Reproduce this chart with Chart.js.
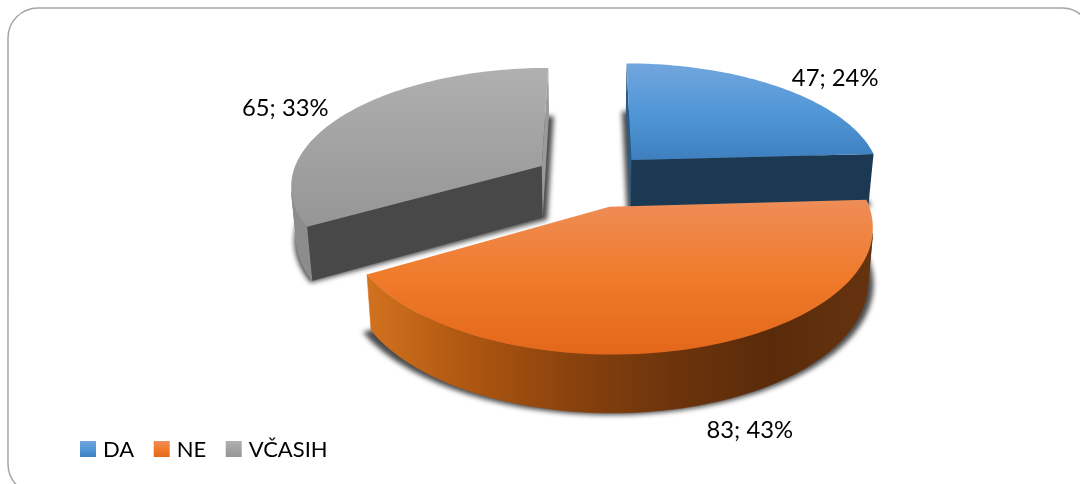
<!DOCTYPE html>
<html><head><meta charset="utf-8">
<style>html,body{margin:0;padding:0;background:#fff}canvas{display:block}</style>
<script src="https://cdn.jsdelivr.net/npm/chart.js@4"></script>
</head><body><canvas id="c" width="1080" height="484"></canvas>
<script>
const categories = ["DA", "NE", "VČASIH"];
const values = [47, 83, 65];
const topColors = [
  ["#72a6dd", "#5197d7", "#3e80bf"],
  ["#ee8d58", "#f07b2a", "#e3671a"],
  ["#b0b0b0", "#a2a2a2", "#969696"]
];
const cutColors = [["#2a5a85", "#1b3953"], ["#7a3a0c", "#7a3a0c"], ["#484848", "#9a9a9a"]];
const rimColors = [
  ["#1b3953", "#1b3953"],
  ["#d2721f", "#ae5710", "#8a430d", "#6d340b", "#5a2b0a", "#66330f"],
  ["#8c8c8c", "#8c8c8c"]
];
const labelShift = [[55.5, -9], [50, 83], [-61, -5]];

const view = {cx: 592, cy: 179.5, rx: 251, ry: 116.6, persp: 0.15, depth: 52, shrink: 0.018, explode: 0.235};

function project(u, v, z) {
  const s = 1 / (1 - view.persp * v);
  return [
    view.cx + view.rx * u * s * (1 - view.shrink * z),
    view.cy + view.ry * v * s + z * view.depth * (1 + 0.1 * v)
  ];
}
function vGrad(ctx, stops, y0, y1) {
  const g = ctx.createLinearGradient(0, y0, 0, y1);
  stops.forEach((c, i) => g.addColorStop(i / (stops.length - 1), c));
  return g;
}
function hGrad(ctx, stops, x0, x1) {
  const g = ctx.createLinearGradient(x0, 0, x1, 0);
  stops.forEach((c, i) => g.addColorStop(i / (stops.length - 1), c));
  return g;
}
function wedge(arc) {
  const mid = (arc.startAngle + arc.endAngle) / 2;
  const ax = view.explode * Math.cos(mid), ay = view.explode * Math.sin(mid);
  const pts = [];
  const n = 90;
  for (let i = 0; i <= n; i++) {
    const t = arc.startAngle + (arc.endAngle - arc.startAngle) * i / n;
    pts.push([ax + Math.cos(t), ay + Math.sin(t)]);
  }
  return {apex: [ax, ay], rim: pts, mid};
}
function trace(ctx, list) {
  list.forEach((p, i) => i ? ctx.lineTo(p[0], p[1]) : ctx.moveTo(p[0], p[1]));
  ctx.closePath();
}
function quad(a, b) {
  return [project(a[0], a[1], 0), project(b[0], b[1], 0), project(b[0], b[1], 1), project(a[0], a[1], 1)];
}
function area(q) {
  let s = 0;
  for (let i = 0; i < q.length; i++) {
    const p = q[i], r = q[(i + 1) % q.length];
    s += p[0] * r[1] - r[0] * p[1];
  }
  return s;
}

const pie3d = {
  id: "pie3d",
  beforeDatasetsDraw(chart) {
    const ctx = chart.ctx;
    const arcs = chart.getDatasetMeta(0).data;
    // back to front: VČASIH, DA, NE
    [2, 0, 1].forEach(i => {
      const w = wedge(arcs[i]);
      const outline = [w.apex, ...w.rim];
      const top = outline.map(p => project(p[0], p[1], 0));
      const bottom = outline.map(p => project(p[0], p[1], 1));
      const ys = top.map(p => p[1]), xs = top.map(p => p[0]);
      const y0 = Math.min(...ys), y1 = Math.max(...ys), x0 = Math.min(...xs), x1 = Math.max(...xs);

      // soft shadow below the slice
      ctx.save();
      ctx.filter = "blur(2.5px)";
      ctx.fillStyle = "rgba(30,30,30,0.8)";
      const bx = bottom.reduce((s, p) => s + p[0], 0) / bottom.length;
      ctx.beginPath();
      trace(ctx, bottom.map(p => [bx + (p[0] - bx) * 1.028, p[1] + 2]));
      ctx.fill();
      ctx.restore();

      // rim wall
      const rimStops = rimColors[i];
      ctx.fillStyle = hGrad(ctx, rimStops, x0, x1);
      ctx.strokeStyle = ctx.fillStyle;
      ctx.lineWidth = 0.6;
      ctx.beginPath();
      for (let k = 0; k < w.rim.length - 1; k++) {
        const q = quad(w.rim[k], w.rim[k + 1]);
        if (area(q) < 0) trace(ctx, q);
      }
      ctx.fill();
      ctx.stroke();

      // cut faces
      [[w.apex, w.rim[0], 0], [w.rim[w.rim.length - 1], w.apex, 1]].forEach(([a, b, c]) => {
        const q = quad(a, b);
        if (area(q) < 0) {
          ctx.fillStyle = cutColors[i][c];
          ctx.beginPath();
          trace(ctx, q);
          ctx.fill();
        }
      });

      // top surface
      ctx.fillStyle = vGrad(ctx, topColors[i], y0, y1);
      ctx.beginPath();
      trace(ctx, top);
      ctx.fill();
    });
    return false;
  },
  afterDraw(chart) {
    const ctx = chart.ctx;
    const arcs = chart.getDatasetMeta(0).data;
    const total = values.reduce((a, b) => a + b, 0);
    ctx.save();
    ctx.font = '23.8px Lato';
    ctx.fillStyle = "#000";
    ctx.textAlign = "center";
    ctx.textBaseline = "middle";
    arcs.forEach((arc, i) => {
      const w = wedge(arc);
      const p = project(w.apex[0] + Math.cos(w.mid), w.apex[1] + Math.sin(w.mid), 0);
      const txt = values[i] + "; " + Math.round(values[i] / total * 100) + "%";
      ctx.fillText(txt, p[0] + labelShift[i][0], p[1] + labelShift[i][1]);
    });
    // legend
    ctx.font = '22px Lato';
    let x = 80;
    const ly = 449, box = 16;
    ctx.textAlign = "left";
    categories.forEach((name, i) => {
      ctx.fillStyle = vGrad(ctx, topColors[i], ly - box / 2, ly + box / 2);
      ctx.fillRect(x, ly - box / 2, box, box);
      ctx.fillStyle = "#000";
      ctx.fillText(name, x + box + 7, ly + 1);
      x += box + 7 + ctx.measureText(name).width + 19.5;
    });
    ctx.restore();
  },
  beforeDraw(chart) {
    const ctx = chart.ctx;
    ctx.save();
    ctx.strokeStyle = "#a6a6a6";
    ctx.lineWidth = 1.5;
    ctx.beginPath();
    ctx.roundRect(8, 8, 1084, 486, 30);
    ctx.stroke();
    ctx.restore();
  }
};

new Chart(document.getElementById("c"), {
  type: "pie",
  data: {
    labels: categories,
    datasets: [{data: values, backgroundColor: topColors.map(c => c[1]), borderWidth: 0}]
  },
  options: {
    responsive: false,
    animation: false,
    plugins: {legend: {display: false}, tooltip: {enabled: false}}
  },
  plugins: [pie3d]
});
</script></body></html>
